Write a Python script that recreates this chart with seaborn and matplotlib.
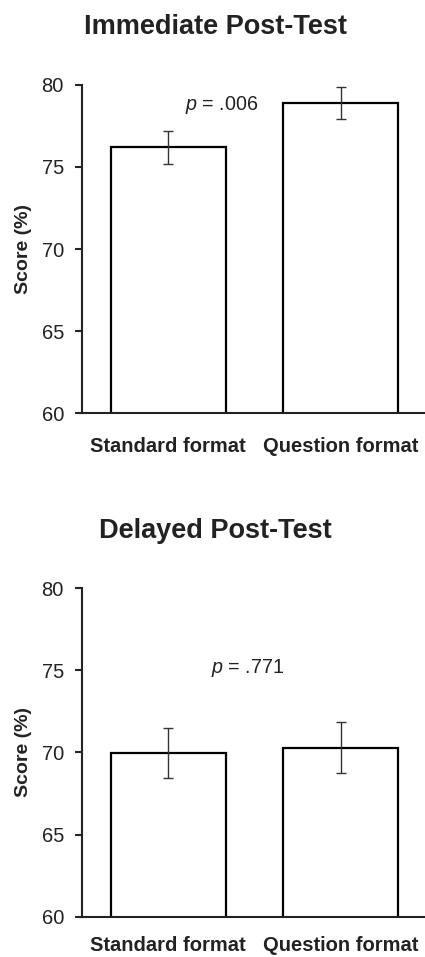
import pandas as pd
import numpy as np
import matplotlib
matplotlib.use("Agg")
import matplotlib.pyplot as plt
import seaborn as sns

# data
formats = ["Standard format", "Question format"]
immediate_mean = [76.2, 78.9]
immediate_se = [1.0, 0.97]
delayed_mean = [69.95, 70.3]
delayed_se = [1.52, 1.54]
panel_titles = ["Immediate Post-Test", "Delayed Post-Test"]
p_labels = ["$p$ = .006", "$p$ = .771"]
y_ticks = [60, 65, 70, 75, 80]

sns.set_style("ticks")
plt.rcParams["font.family"] = ["Liberation Sans", "DejaVu Sans"]
plt.rcParams["mathtext.fontset"] = "custom"
plt.rcParams["mathtext.rm"] = "Liberation Sans"
plt.rcParams["mathtext.it"] = "Liberation Sans:italic"

fig = plt.figure(figsize=(4.25, 9.57), dpi=100)
ax1 = fig.add_axes([0.193, 0.5684, 0.807, 0.3428])
ax2 = fig.add_axes([0.193, 0.0421, 0.807, 0.3432])

panels = [
    (ax1, immediate_mean, immediate_se, panel_titles[0], p_labels[0], (0.31, 78.8), 37, 17),
    (ax2, delayed_mean, delayed_se, panel_titles[1], p_labels[1], (0.46, 75.15), 36, 14),
]

for ax, means, ses, title, plab, ppos, tpad, xpad in panels:
    df = pd.DataFrame({"format": formats, "score": means})
    sns.barplot(data=df, x="format", y="score", ax=ax, color="white",
                edgecolor="black", linewidth=1.6, width=0.665, errorbar=None)
    ax.errorbar(np.arange(len(formats)), means, yerr=ses, fmt="none",
                ecolor="#333333", elinewidth=1.0, capsize=3.6, capthick=1.0)
    ax.set_ylim(60, 80)
    ax.set_xlim(-0.5, 1.49)
    ax.set_yticks(y_ticks)
    ax.set_xlabel("")
    ax.set_ylabel("Score (%)", fontsize=14, fontweight="bold", color="#222222")
    ax.yaxis.set_label_coords(-0.147, 0.5)
    ax.tick_params(axis="y", length=5, width=1.5, pad=8, labelsize=14.5,
                   labelcolor="#222222")
    ax.tick_params(axis="x", length=0, pad=xpad, labelsize=14.5)
    for lab in ax.get_xticklabels():
        lab.set_fontweight("bold")
        lab.set_color("#222222")
    for s in ["top", "right"]:
        ax.spines[s].set_visible(False)
    for s in ["left", "bottom"]:
        ax.spines[s].set_linewidth(1.5)
        ax.spines[s].set_color("#222222")
    ax.set_title(title, fontsize=19.5, fontweight="bold", color="#222222",
                 x=0.388, pad=tpad)
    ax.text(ppos[0], ppos[1], plab, fontsize=14.2, ha="center", va="center",
            color="#222222")

fig.savefig("out.png", dpi=100)
